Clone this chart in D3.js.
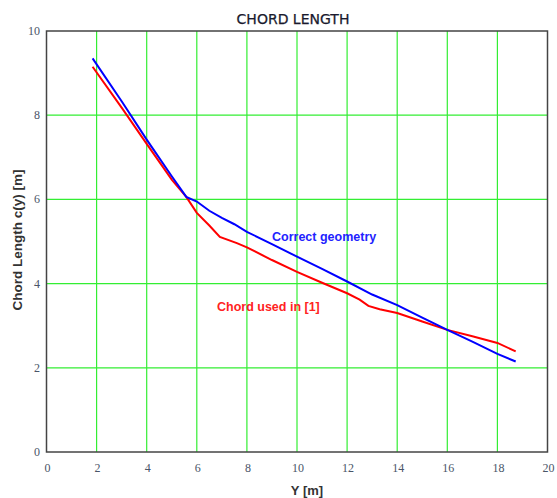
<!DOCTYPE html>
<html>
<head>
<meta charset="utf-8">
<script src="https://cdn.jsdelivr.net/npm/d3@7"></script>
<style>
  body { margin: 0; background: #fff; }
  svg { display: block; }
  .tick-label { font-family: "Liberation Serif", serif; font-size: 12px; fill: #4a5568; }
</style>
</head>
<body>
<div id="chart"></div>
<script>
// values
const xTicks = [0, 2, 4, 6, 8, 10, 12, 14, 16, 18, 20];
const yTicks = [0, 2, 4, 6, 8, 10];

const correctY = [1.84, 3, 4, 5, 5.58, 6, 6.5, 7, 7.5, 8, 9, 10, 11, 12, 13, 14, 15, 16, 17, 18, 18.73];
const correctC = [9.35, 8.33, 7.42, 6.55, 6.06, 5.95, 5.73, 5.56, 5.41, 5.23, 4.94, 4.64, 4.35, 4.05, 3.74, 3.49, 3.19, 2.90, 2.62, 2.33, 2.15];

const usedY = [1.84, 3, 4, 5, 5.58, 6, 6.5, 6.92, 7.6, 8, 9, 10, 11, 12, 12.5, 12.85, 13.3, 14, 15, 16, 17, 18, 18.73];
const usedC = [9.15, 8.18, 7.32, 6.47, 6.06, 5.68, 5.38, 5.11, 4.96, 4.86, 4.56, 4.28, 4.02, 3.77, 3.62, 3.47, 3.39, 3.30, 3.10, 2.90, 2.75, 2.59, 2.39];

let width = 557,
height = 498;

let x = d3.scaleLinear().domain([0, 20]).range([46.5, 547.5]);
let y = d3.scaleLinear().domain([0, 10]).range([452, 31]);

let svg = d3.select("#chart").append("svg")
  .attr("width", width)
  .attr("height", height);

// grid
svg.append("g")
  .selectAll("line")
  .data(xTicks.filter(d => d > 0 && d < 20))
  .enter().append("line")
  .attr("x1", d => x(d)).attr("x2", d => x(d))
  .attr("y1", y(0)).attr("y2", y(10))
  .attr("stroke", "#33ee33")
  .attr("stroke-width", 1.2);

svg.append("g")
  .selectAll("line")
  .data(yTicks.filter(d => d > 0 && d < 10))
  .enter().append("line")
  .attr("y1", d => y(d)).attr("y2", d => y(d))
  .attr("x1", x(0)).attr("x2", x(20))
  .attr("stroke", "#33ee33")
  .attr("stroke-width", 1.2);

// frame
svg.append("rect")
  .attr("x", x(0)).attr("y", y(10))
  .attr("width", x(20) - x(0))
  .attr("height", y(0) - y(10))
  .attr("fill", "none")
  .attr("stroke", "#444")
  .attr("stroke-width", 1.5);

// tick labels
svg.append("g")
  .selectAll("text")
  .data(xTicks)
  .enter().append("text")
  .attr("class", "tick-label")
  .attr("x", d => x(d) + 1)
  .attr("y", 472)
  .attr("text-anchor", "middle")
  .text(d => d);

svg.append("g")
  .selectAll("text")
  .data(yTicks)
  .enter().append("text")
  .attr("class", "tick-label")
  .attr("x", 40)
  .attr("y", d => y(d) + 4)
  .attr("text-anchor", "end")
  .text(d => d);

// lines
let line = d3.line()
  .x(d => x(d[0]))
  .y(d => y(d[1]));

svg.append("path")
  .datum(d3.zip(usedY, usedC))
  .attr("fill", "none")
  .attr("stroke", "#ff0000")
  .attr("stroke-width", 2)
  .attr("d", line);

svg.append("path")
  .datum(d3.zip(correctY, correctC))
  .attr("fill", "none")
  .attr("stroke", "#0000ff")
  .attr("stroke-width", 2)
  .attr("d", line);

// labels
svg.append("text")
  .attr("x", 272).attr("y", 241)
  .attr("font-family", "Liberation Sans, Arial, sans-serif")
  .attr("font-size", 12.5)
  .attr("font-weight", "bold")
  .attr("fill", "#2222ff")
  .text("Correct geometry");

svg.append("text")
  .attr("x", 217).attr("y", 311)
  .attr("font-family", "Liberation Sans, Arial, sans-serif")
  .attr("font-size", 12.5)
  .attr("font-weight", "bold")
  .attr("fill", "#ff2222")
  .text("Chord used in [1]");

svg.append("text")
  .attr("x", 293).attr("y", 24)
  .attr("text-anchor", "middle")
  .attr("font-family", "DejaVu Sans, sans-serif")
  .attr("font-size", 14)
  .attr("fill", "#1a1a2e")
  .attr("stroke", "#1a1a2e")
  .attr("stroke-width", 0.25)
  .text("CHORD LENGTH");

svg.append("text")
  .attr("x", 307).attr("y", 495)
  .attr("text-anchor", "middle")
  .attr("font-family", "Liberation Sans, Arial, sans-serif")
  .attr("font-size", 13)
  .attr("font-weight", "bold")
  .attr("fill", "#333")
  .text("Y [m]");

svg.append("text")
  .attr("transform", "translate(22,240) rotate(-90)")
  .attr("text-anchor", "middle")
  .attr("font-family", "Liberation Sans, Arial, sans-serif")
  .attr("font-size", 13.5)
  .attr("font-weight", "bold")
  .attr("fill", "#333")
  .text("Chord Length c(y) [m]");
</script>
</body>
</html>
